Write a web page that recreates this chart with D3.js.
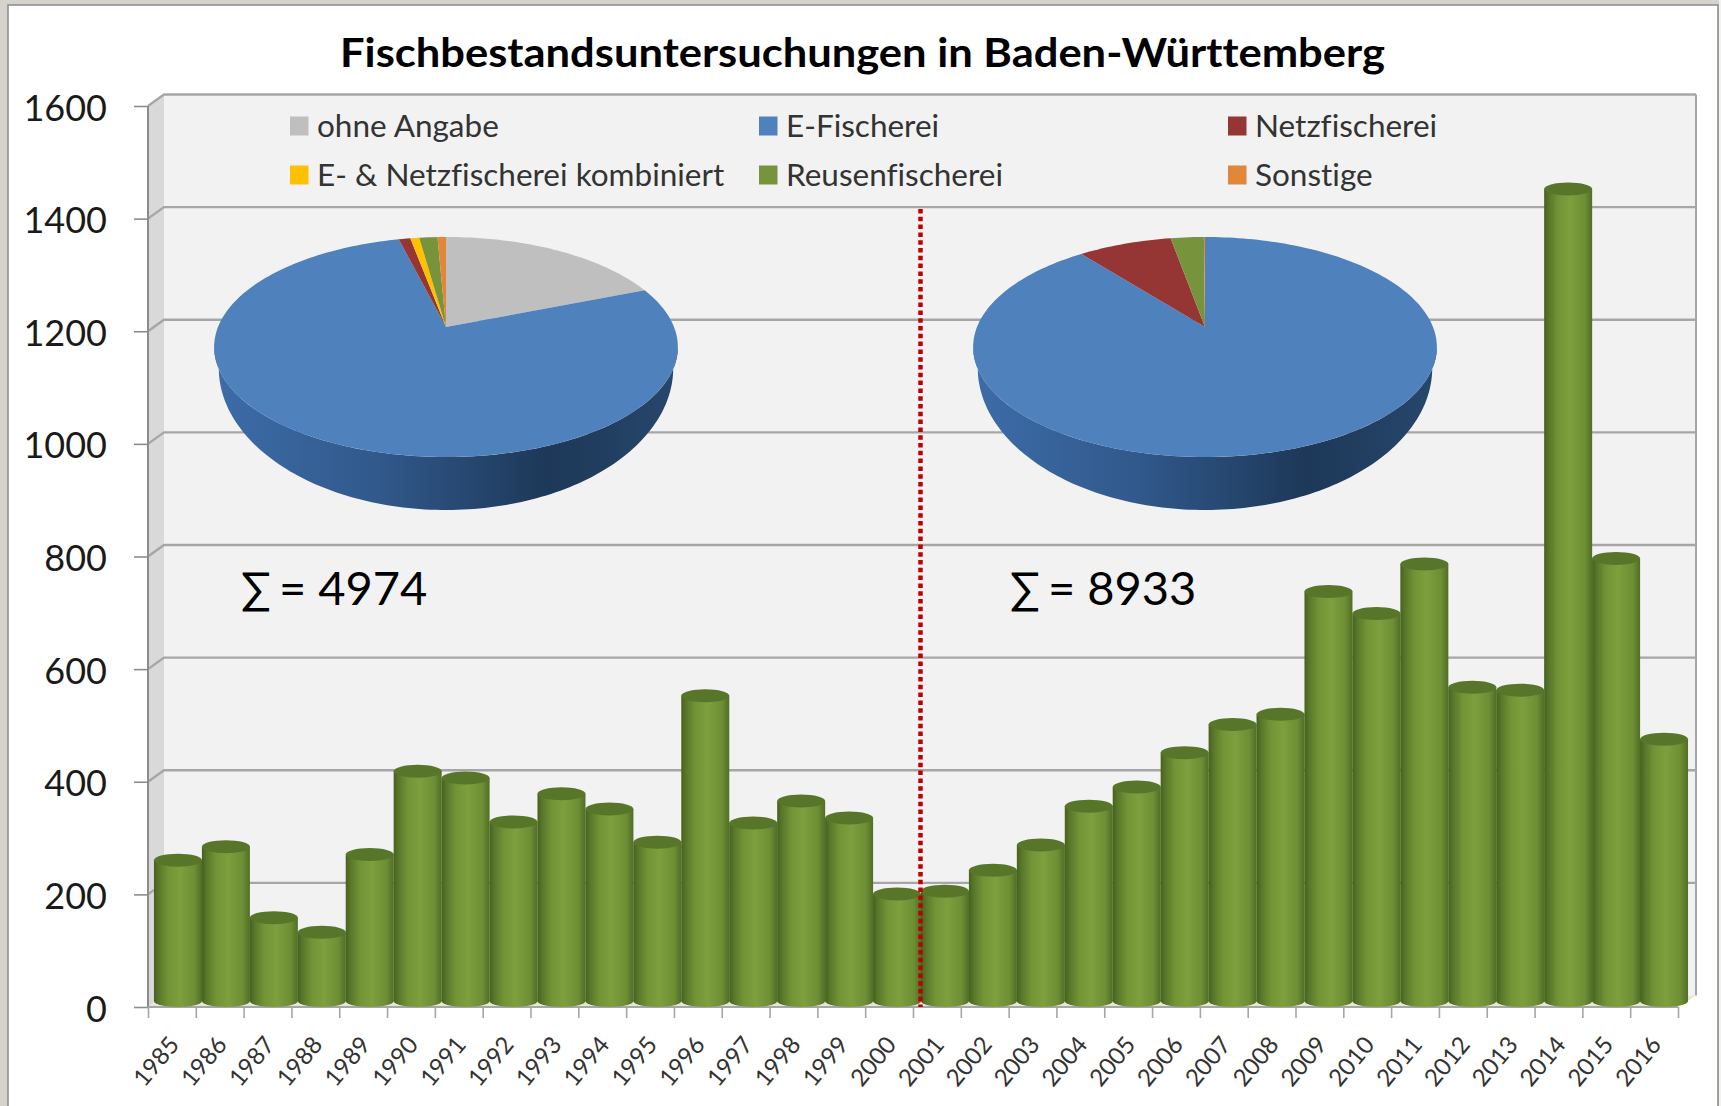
<!DOCTYPE html>
<html>
<head>
<meta charset="utf-8" />
<title>Fischbestandsuntersuchungen in Baden-Württemberg</title>
<script src="https://d3js.org/d3.v7.min.js"></script>
<style>
    html, body { margin: 0; padding: 0; background: #d6d3cc; }
    svg { display: block; }
    text { font-family: Lato, "Open Sans", sans-serif; font-variant-ligatures: none; }
    .domain { display: none; }
</style>
</head>
<body>
<svg id="chart" width="1721" height="1106"></svg>
<script>
//Data
const years = d3.range(1985, 2017).map(String);
const counts = [250, 274, 148, 122, 260, 408, 396, 318, 368, 341, 282, 542, 316, 355, 325, 190,
                195, 232, 277, 346, 380, 441, 491, 509, 727, 688, 776, 557, 552, 1442, 786, 465];
const yTicks = [0, 200, 400, 600, 800, 1000, 1200, 1400, 1600];
const methods = ["ohne Angabe", "E-Fischerei", "Netzfischerei", "E- & Netzfischerei kombiniert", "Reusenfischerei", "Sonstige"];
const methodColors = ["#bfbfbf", "#4f81bd", "#963634", "#ffc000", "#77933c", "#e0873a"];
const pieBefore = [945, 3834, 48, 37, 75, 35];
const pieAfter = [0, 7982, 697, 0, 246, 8];
const sumSign = "∑";
const sumBefore = "= 4974";
const sumAfter = "= 8933";
const chartTitle = "Fischbestandsuntersuchungen in Baden-Württemberg";

//Variables
const svg = d3.select("#chart");
const depthX = 16, depthY = 11.5;
const x0 = 148, x1 = 1678, y0 = 1007, y1 = 106;

//Scales
const yScale = d3.scaleLinear().domain([0, 1600]).range([y0, y1]);
const xScale = d3.scaleBand().domain(years).range([x0, x1]);
const barScale = d3.scaleBand().domain(years).range([154, 1688]);
const edgeScale = d3.scaleLinear().domain([0, years.length]).range([x0, x1]);

//Gradients
const defs = svg.append("defs");
function hGradient(id, stops) {
    const g = defs.append("linearGradient").attr("id", id);
    stops.forEach(s => g.append("stop").attr("offset", s[0]).attr("stop-color", s[1]));
}
hGradient("barFill", [[0, "#46611f"], [0.1, "#587829"], [0.3, "#729436"], [0.55, "#7d9f3d"], [0.85, "#6d8e34"], [1, "#506e27"]]);
hGradient("pieSide", [[0, "#3d6ca8"], [0.35, "#31598c"], [0.72, "#1d3858"], [1, "#27476c"]]);

//Panel
svg.append("rect").attr("x", 1719).attr("y", 0).attr("width", 2).attr("height", 1106).attr("fill", "#f2f2f0");
svg.append("rect").attr("x", 8).attr("y", 5).attr("width", 1710).attr("height", 1110)
    .attr("fill", "#ffffff").attr("stroke", "#8f8f8f").attr("stroke-width", 1.6);

//Walls
const wall = svg.append("g");
wall.append("rect")
    .attr("x", x0 + depthX).attr("y", y1 - depthY)
    .attr("width", 1696 - x0 - depthX).attr("height", y0 - y1)
    .attr("fill", "#f2f2f2");
wall.append("path")
    .attr("d", d3.line()([[x0, y1], [x0 + depthX, y1 - depthY], [x0 + depthX, y0 - depthY], [x0, y0]]))
    .attr("fill", "#d9d9d9");
wall.append("path")
    .attr("d", d3.line()([[x0, y0], [x0 + depthX, y0 - depthY], [1696, y0 - depthY], [x1, y0]]))
    .attr("fill", "#e3e8da");

//Gridlines
wall.selectAll("path.grid")
    .data(yTicks.slice(1))
    .enter()
    .append("path")
    .attr("class", "grid")
    .attr("fill", "none")
    .attr("stroke", "#a6a6a6")
    .attr("stroke-width", 2.4)
    .attr("d", d => d3.line()([[x0, yScale(d)], [x0 + depthX, yScale(d) - depthY], [1696, yScale(d) - depthY]]));
wall.append("line")
    .attr("x1", 1696).attr("x2", 1696).attr("y1", y1 - depthY).attr("y2", y0 - depthY)
    .attr("stroke", "#a6a6a6").attr("stroke-width", 2);

//Y axis
const yAxis = svg.append("g")
    .attr("transform", "translate(" + x0 + ",0)")
    .call(d3.axisLeft(yScale).tickValues(yTicks).tickSize(14).tickPadding(27).tickFormat(d3.format("d")));
yAxis.selectAll("line").attr("stroke", "#8c8c8c").attr("stroke-width", 1.6);
yAxis.selectAll("text").attr("font-size", 36).attr("fill", "#1a1a1a").attr("font-family", "Lato").attr("dy", "0.39em");
svg.append("line").attr("x1", x0).attr("x2", x0).attr("y1", y1).attr("y2", y0)
    .attr("stroke", "#8c8c8c").attr("stroke-width", 2);

//X axis, the ticks sit between the years
const tickAxis = svg.append("g")
    .attr("transform", "translate(0," + y0 + ")")
    .call(d3.axisBottom(edgeScale).tickValues(d3.range(years.length + 1)).tickSize(11).tickFormat(""));
tickAxis.selectAll("line").attr("stroke", "#a6a6a6").attr("stroke-width", 1.6);
svg.append("line").attr("x1", x0).attr("x2", x1).attr("y1", y0).attr("y2", y0)
    .attr("stroke", "#a6a6a6").attr("stroke-width", 2);

const labelAxis = svg.append("g")
    .attr("transform", "translate(0," + y0 + ")")
    .call(d3.axisBottom(xScale).tickSize(0));
labelAxis.selectAll("text")
    .attr("font-size", 24)
    .attr("font-family", "Lato")
    .attr("fill", "#333333")
    .attr("text-anchor", "end")
    .attr("dy", "0.35em")
    .attr("y", 0)
    .attr("transform", "translate(2,33) rotate(-50)");

//Bars
const barW = 48, ry = 6.5, barMid = 6;
const bars = svg.selectAll("g.bar")
    .data(years)
    .enter()
    .append("g")
    .attr("class", "bar");
const cx = y => barScale(y) + barScale.bandwidth() / 2;
const topY = (d, i) => yScale(counts[i]) - barMid;
bars.append("ellipse")
    .attr("cx", cx).attr("cy", y0 - barMid).attr("rx", barW / 2).attr("ry", ry - 0.5)
    .attr("fill", "url(#barFill)");
bars.append("rect")
    .attr("x", d => cx(d) - barW / 2)
    .attr("y", topY)
    .attr("width", barW)
    .attr("height", (d, i) => y0 - barMid - topY(d, i))
    .attr("fill", "url(#barFill)");
bars.append("ellipse")
    .attr("cx", cx).attr("cy", topY).attr("rx", barW / 2).attr("ry", ry)
    .attr("fill", "#587629");

//Pies, squeezed towards the back so the centre sits above the middle of the disc
const pieTop = 90, pieBottom = 130, pieR = 228;
const k = (pieTop - pieBottom) / (pieTop + pieBottom);
const a = pieBottom * (1 + k);
const pieLayout = d3.pie().sort(null).value(d => d);

function project(t) {
    const u = Math.sin(t), v = -Math.cos(t);
    return [pieR * u / (1 + k * v), a * v / (1 + k * v)];
}
function wedge(start, end) {
    const n = Math.max(2, Math.ceil((end - start) * 40));
    const pts = [[0, 0]];
    d3.range(n + 1).forEach(i => pts.push(project(start + (end - start) * i / n)));
    return d3.line()(pts) + "Z";
}
function drawPie(values, px, py) {
    const g = svg.append("g").attr("transform", "translate(" + px + "," + py + ")");
    // side wall: front half of the disc down to a wider-looking bottom rim
    const front = d3.range(Math.PI * 0.56, Math.PI * 1.44, 0.02);
    const upper = front.map(t => project(t));
    const lower = front.slice().reverse().map(t => {
        const p = project(t);
        return [p[0] * 0.98, 41 + (p[1] - 20) * 142 / 110];
    });
    g.append("path").attr("d", d3.line()(upper.concat(lower)) + "Z").attr("fill", "url(#pieSide)");
    g.selectAll("path.slice")
        .data(pieLayout(values))
        .enter()
        .append("path")
        .attr("class", "slice")
        .attr("d", d => wedge(d.startAngle, d.endAngle))
        .attr("fill", (d, i) => methodColors[i]);
}
drawPie(pieBefore, 446, 327);
drawPie(pieAfter, 1205, 327);

//Sum labels
function sumLabel(x, txt) {
    svg.append("text").attr("x", x).attr("y", 604).attr("font-size", 44).attr("fill", "#000").text(sumSign);
    svg.append("text").attr("x", x + 38).attr("y", 605).attr("font-size", 47).attr("fill", "#000").text(txt);
}
sumLabel(241, sumBefore);
sumLabel(1010, sumAfter);

//Dotted divider
svg.append("line")
    .attr("x1", xScale("2001") + 7.5).attr("x2", xScale("2001") + 7.5)
    .attr("y1", 209).attr("y2", y0)
    .attr("stroke", "#c00000")
    .attr("stroke-width", 4.5)
    .attr("stroke-dasharray", "4.5 3.3");

//Legend
const legendCols = [290, 759, 1228], legendRows = [126, 175];
const legend = svg.selectAll("g.legend")
    .data(methods)
    .enter()
    .append("g")
    .attr("class", "legend")
    .attr("transform", (d, i) => "translate(" + legendCols[i % 3] + "," + legendRows[Math.floor(i / 3)] + ")");
legend.append("rect").attr("y", -9.5).attr("width", 18.5).attr("height", 19).attr("fill", (d, i) => methodColors[i]);
legend.append("text").attr("x", 27).attr("dy", "0.35em").attr("font-size", 31.5).attr("fill", "#333333").text(d => d);

//Title
svg.append("text")
    .attr("x", 862.5).attr("y", 67)
    .attr("text-anchor", "middle")
    .attr("font-size", 40).attr("font-weight", "bold").attr("fill", "#000")
    .attr("textLength", 1045).attr("lengthAdjust", "spacingAndGlyphs")
    .text(chartTitle);
</script>
</body>
</html>
